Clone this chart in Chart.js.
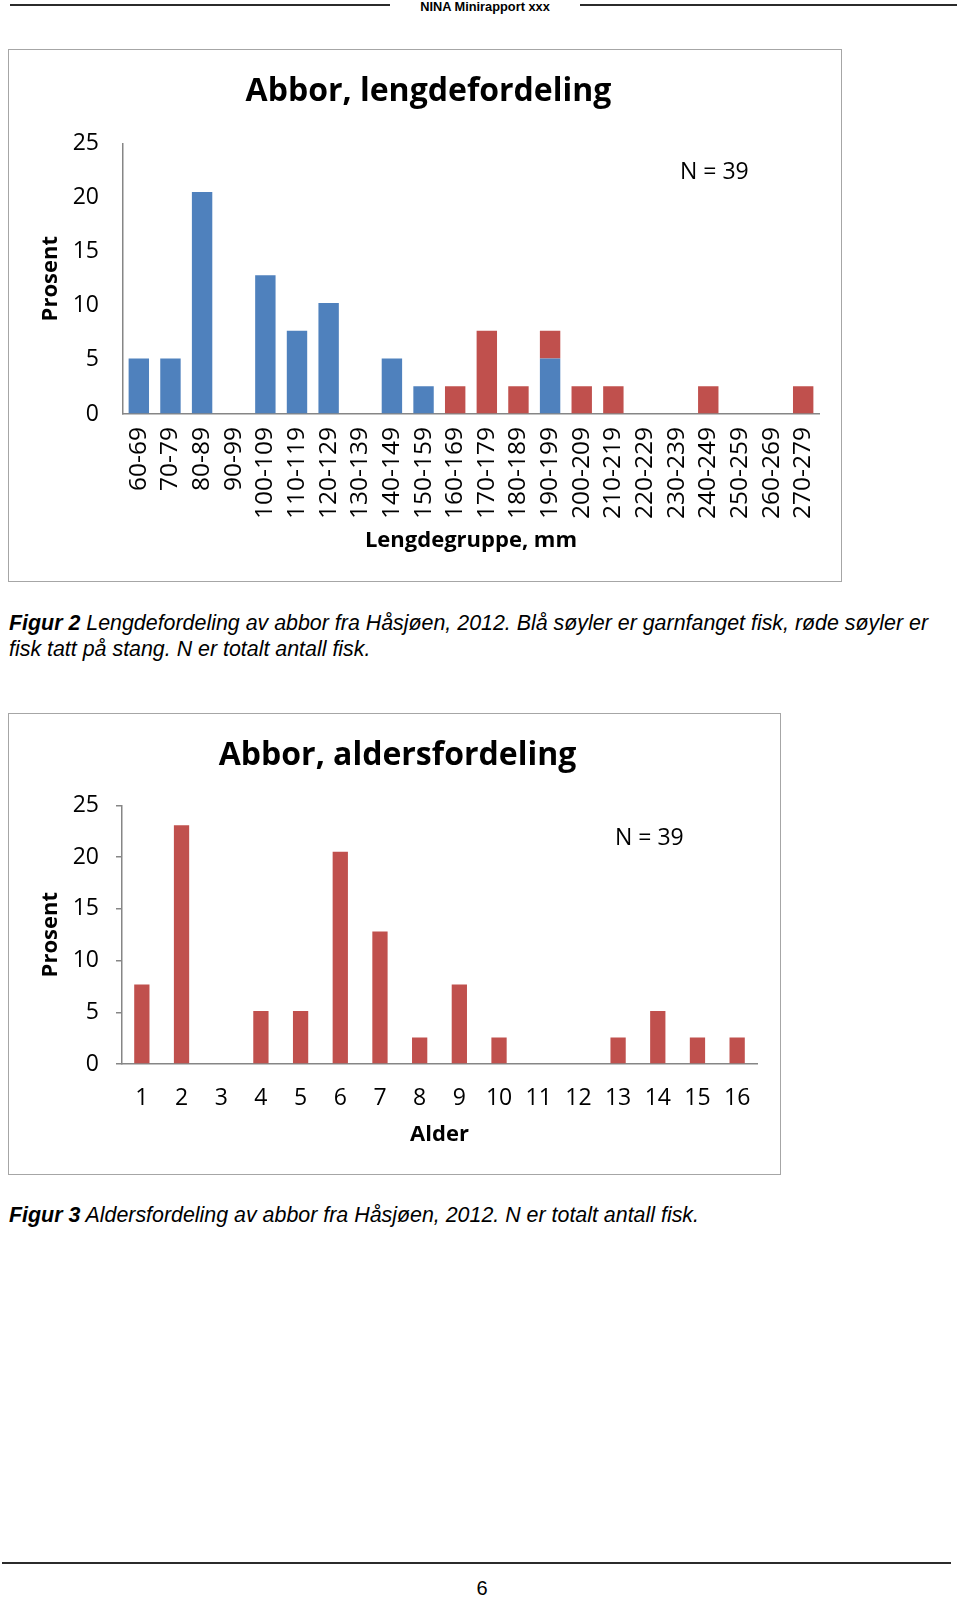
<!DOCTYPE html>
<html>
<head>
<meta charset="utf-8">
<script src="https://cdn.jsdelivr.net/npm/chart.js@4.4.0/dist/chart.umd.min.js"></script>
<style>
  body { margin: 0; width: 960px; height: 1599px; position: relative; background: #fff;
         font-family: "Liberation Sans", Arial, sans-serif; color: #000; }
  .hline { position: absolute; height: 2px; background: #2b2b2b; }
  .box { position: absolute; border: 1.5px solid #a6a6a6; box-sizing: border-box; }
  .wrap { position: absolute; }
  .cap { position: absolute; left: 9px; white-space: nowrap; font-size: 21.4px; line-height: 26px; font-style: italic; }
  .head { position: absolute; top: -1px; left: 390px; width: 190px; text-align: center; font-weight: bold; font-size: 12.8px; }
  .page { position: absolute; top: 1577px; left: 462px; width: 40px; text-align: center; font-size: 20px; }
</style>
</head>
<body>
<div class="hline" style="top:4px;left:10px;width:380px"></div>
<div class="head">NINA Minirapport xxx</div>
<div class="hline" style="top:4px;left:580px;width:377px"></div>

<div class="box" style="left:8px;top:49px;width:834px;height:533px"></div>
<div class="wrap" style="left:8px;top:49px"><canvas id="lengthChart" width="834" height="533"></canvas></div>

<div class="cap" style="top:610px"><b>Figur 2</b> Lengdefordeling av abbor fra Håsjøen, 2012. Blå søyler er garnfanget fisk, røde søyler er<br>fisk tatt på stang. N er totalt antall fisk.</div>

<div class="box" style="left:8px;top:713px;width:773px;height:462px"></div>
<div class="wrap" style="left:8px;top:713px"><canvas id="ageChart" width="773" height="462"></canvas></div>

<div class="cap" style="top:1202px"><b>Figur 3</b> Aldersfordeling av abbor fra Håsjøen, 2012. N er totalt antall fisk.</div>

<div class="hline" style="top:1562px;left:2px;width:949px"></div>
<div class="page">6</div>

<script>
// length groups (mm) and percentages, N = 39
const lengthGroups = ['60-69', '70-79', '80-89', '90-99', '100-109', '110-119', '120-129', '130-139',
    '140-149', '150-159', '160-169', '170-179', '180-189', '190-199', '200-209', '210-219',
    '220-229', '230-239', '240-249', '250-259', '260-269', '270-279'];
const garnPct = [5.13, 5.13, 20.51, 0, 12.82, 7.69, 10.26, 0, 5.13, 2.56, 0, 0, 0, 5.13, 0, 0, 0, 0, 0, 0, 0, 0];
const stangPct = [0, 0, 0, 0, 0, 0, 0, 0, 0, 0, 2.56, 7.69, 2.56, 2.56, 2.56, 2.56, 0, 0, 2.56, 0, 0, 2.56];

// ages and percentages
const ages = ['1', '2', '3', '4', '5', '6', '7', '8', '9', '10', '11', '12', '13', '14', '15', '16'];
const agePct = [7.69, 23.08, 0, 5.13, 5.13, 20.51, 12.82, 2.56, 7.69, 2.56, 0, 0, 2.56, 5.13, 2.56, 2.56];

const yTicks = [0, 5, 10, 15, 20, 25];
const nText = 'N = 39';

const BLUE = '#4f81bd';
const RED = '#c0504d';
const AXIS = '#868686';
const FONT = '"Open Sans", sans-serif';

Chart.defaults.font.family = FONT;
Chart.defaults.color = '#000';

// draws the "N = 39" note inside the plot area
const nLabel = {
    id: 'nLabel',
    afterDraw(chart, args, opts) {
        const { ctx, chartArea } = chart;
        ctx.save();
        ctx.font = '23px ' + FONT;
        ctx.fillStyle = '#000';
        ctx.textBaseline = 'middle';
        ctx.fillText(opts.text, chartArea.right - opts.dx, chartArea.top + opts.dy);
        ctx.restore();
    }
};

function yScale(tickLen, pad, width) {
    return {
        min: 0,
        max: 25,
        afterBuildTicks: s => { s.ticks = yTicks.map(v => ({ value: v })); },
        afterFit: s => { s.width = width; },
        grid: { drawOnChartArea: false, drawTicks: tickLen > 0, tickLength: tickLen, color: AXIS, lineWidth: 1.5 },
        border: { color: AXIS, width: 1.5 },
        ticks: { padding: pad, font: { size: 23 }, color: '#000' },
        title: { display: true, text: 'Prosent', font: { size: 22, weight: 'bold' }, padding: 0 }
    };
}

new Chart(document.getElementById('lengthChart'), {
    type: 'bar',
    data: {
        labels: lengthGroups,
        datasets: [
            { label: 'Garn', data: garnPct, backgroundColor: BLUE },
            { label: 'Stang', data: stangPct, backgroundColor: RED }
        ]
    },
    options: {
        responsive: false,
        animation: false,
        layout: { padding: { left: 30, right: 23, top: 13, bottom: 28 } },
        datasets: { bar: { categoryPercentage: 1, barPercentage: 0.645 } },
        scales: {
            x: {
                stacked: true,
                afterFit: s => { s.height = 140; s.paddingLeft = 0; s.paddingRight = 0; },
                grid: { drawOnChartArea: false, drawTicks: false },
                border: { color: AXIS, width: 1.5 },
                ticks: { autoSkip: false, minRotation: 90, maxRotation: 90, padding: 13, font: { size: 24.5 }, color: '#000' },
                title: { display: true, text: 'Lengdegruppe, mm', font: { size: 22, weight: 'bold' }, padding: 0 }
            },
            y: Object.assign(yScale(0, 24, 85), { stacked: true })
        },
        plugins: {
            legend: { display: false },
            tooltip: { enabled: false },
            title: {
                display: true,
                text: 'Abbor, lengdefordeling',
                color: '#000',
                font: { size: 32, weight: 'bold' },
                padding: { top: 11, bottom: 32 }
            },
            nLabel: { text: nText, dx: 139, dy: 29 }
        }
    },
    plugins: [nLabel]
});

new Chart(document.getElementById('ageChart'), {
    type: 'bar',
    data: {
        labels: ages,
        datasets: [{ label: 'Alder', data: agePct, backgroundColor: RED }]
    },
    options: {
        responsive: false,
        animation: false,
        layout: { padding: { left: 30, right: 24, top: 12, bottom: 27 } },
        datasets: { bar: { categoryPercentage: 1, barPercentage: 0.385 } },
        scales: {
            x: {
                afterFit: s => { s.height = 84; },
                grid: { drawOnChartArea: false, drawTicks: false },
                border: { color: AXIS, width: 1.5 },
                ticks: { autoSkip: false, maxRotation: 0, padding: 21, font: { size: 23 }, color: '#000' },
                title: { display: true, text: 'Alder', font: { size: 22, weight: 'bold' }, padding: 0 }
            },
            y: yScale(6, 17, 84)
        },
        plugins: {
            legend: { display: false },
            tooltip: { enabled: false },
            title: {
                display: true,
                text: 'Abbor, aldersfordeling',
                color: '#000',
                font: { size: 32, weight: 'bold' },
                padding: { top: 12, bottom: 30 }
            },
            nLabel: { text: nText, dx: 142, dy: 33 }
        }
    },
    plugins: [nLabel]
});
</script>
</body>
</html>
